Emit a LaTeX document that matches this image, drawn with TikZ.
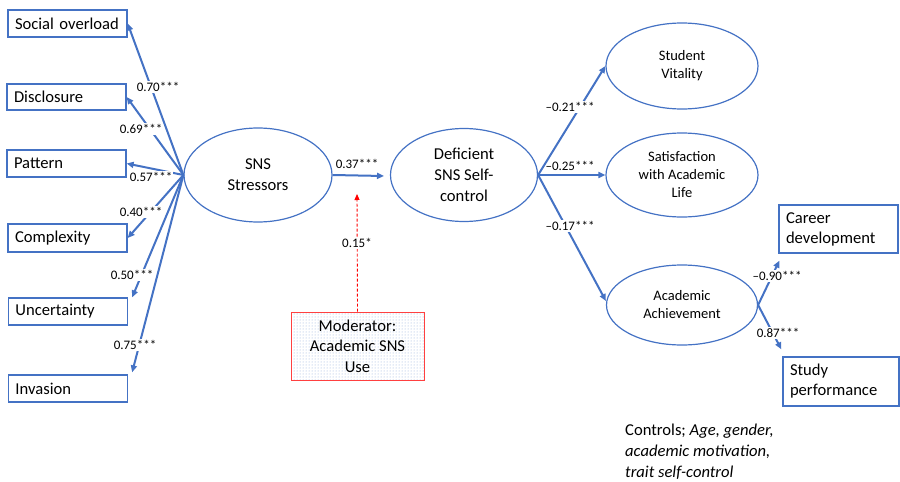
\documentclass[tikz,border=0pt]{standalone}
\usepackage{fontspec}
\setmainfont{Carlito}
\usetikzlibrary{arrows.meta,patterns,calc,shapes.geometric}
\definecolor{obl}{HTML}{4472C4}
\definecolor{mred}{HTML}{FF4040}
\begin{document}
\begin{tikzpicture}[x=1pt,y=-1pt,
  boxnode/.style={draw=obl, line width=1.3pt, rectangle, align=left, text width=105pt, inner xsep=7pt, inner ysep=0pt, font=\fontsize{16.6}{20}\selectfont},
  ellbig/.style={draw=obl, line width=1.2pt, ellipse, inner sep=0pt, align=center, font=\fontsize{16.6}{21}\selectfont},
  ellsmall/.style={draw=obl, line width=1.2pt, ellipse, inner sep=0pt, align=center, font=\fontsize{14.5}{18}\selectfont},
  arr/.style={draw=obl, line width=2pt, -{Triangle[length=7pt,width=6pt]}},
  lab/.style={fill=white, inner sep=1pt, font=\fontsize{13}{15}\selectfont},
  modarr/.style={draw=red, line width=0.9pt, dash pattern=on 3pt off 2pt, -{Triangle[length=6pt,width=5pt]}},
  txt/.style={inner sep=0pt, align=left, font=\fontsize{16.6}{21}\selectfont}]
\useasboundingbox (0,0) rectangle (900,482);

% left boxes
\node[boxnode, minimum height=27pt] (so) at (67.5,23.5) {Social overload};
\node[boxnode, minimum height=26pt] (di) at (66.5,97) {Disclosure};
\node[boxnode, minimum height=27pt] (pa) at (66.5,163.5) {Pattern};
\node[boxnode, minimum height=28pt] (co) at (67.5,238) {Complexity};
\node[boxnode, minimum height=27pt] (un) at (68,311.5) {Uncertainty};
\node[boxnode, minimum height=27pt] (iv) at (68,388.5) {Invasion};

% ellipses
\node[ellbig, minimum width=148pt, minimum height=94pt] (sns) at (258,175) {SNS\\Stressors};
\node[ellbig, minimum width=147pt, minimum height=93pt] (def) at (464,175) {Deficient\\SNS Self-\\control};
\node[ellsmall, minimum width=152pt, minimum height=86pt] (sv) at (682,66) {Student\\Vitality};
\node[ellsmall, minimum width=152pt, minimum height=84pt] (sat) at (682,175) {Satisfaction\\with Academic\\Life};
\node[ellsmall, minimum width=151pt, minimum height=80pt] (aa) at (682,305) {Academic\\Achievement};

% right boxes
\node[boxnode, minimum height=48pt, text width=105pt] (car) at (838.5,229) {Career\\development};
\node[boxnode, minimum height=49pt, text width=102pt] (stu) at (841,381.5) {Study\\performance};

% moderator
\node[draw=mred, line width=1pt, rectangle, minimum width=133pt, minimum height=68pt,
      pattern=dots, pattern color=obl!60, preaction={fill=white}, align=center, inner sep=0pt,
      font=\fontsize{16.6}{20.5}\selectfont] (mod) at (357.5,346) {Moderator:\\Academic SNS\\Use};

% controls
\node[txt, anchor=north west] (ctl) at (625,424) {Controls; \textit{Age, gender,}\\\textit{academic motivation,}\\\textit{trait self-control}};

% coordinates
\coordinate (modt) at (357,194);
\coordinate (deft) at (384,176);
\coordinate (unt) at ($(un.north east)+(4,0)$);
\coordinate (ivt) at ($(iv.north east)+(4,-2)$);
\coordinate (cart) at ($(car.south west)+(1,7)$);
\coordinate (stut) at ($(stu.north west)+(-1,-7)$);

% left arrows
\draw[arr] (sns.west) -- (so.east);
\draw[arr] (sns.west) -- (di.east);
\draw[arr] (sns.west) -- (pa.east);
\draw[arr] (sns.west) -- (co.east);
\draw[arr] (sns.west) -- (unt);
\draw[arr] (sns.west) -- (ivt);

\node[lab] (l1) at (158,87) {0.70***};
\node[lab] (l2) at (141,129) {0.69***};
\node[lab] (l3) at (151,177) {0.57***};
\node[lab] (l4) at (141,212) {0.40***};
\node[lab] (l5) at (132,275) {0.50***};
\node[lab] (l6) at (135,345) {0.75***};

% middle
\draw[arr] (sns.east) -- (deft);
\node[lab] (l7) at (357,164) {0.37***};
\draw[modarr] (mod.north) -- (modt);
\node[lab] (l8) at (357,243) {0.15*};

% right arrows
\draw[arr] (def.east) -- (sv.west);
\draw[arr] (def.east) -- (sat.west);
\draw[arr] (def.east) -- ($(aa.west)+(0,-4)$);
\node[lab] (l9) at (570,107) {–0.21***};
\node[lab, fill=none] (l10) at (570,166) {–0.25***};
\node[lab] (l11) at (570,226) {–0.17***};

\draw[arr] (aa.east) -- (cart);
\draw[arr] (aa.east) -- (stut);
\node[lab] (l12) at (777,276) {–0.90***};
\node[lab] (l13) at (778,333) {0.87***};
\end{tikzpicture}
\end{document}
